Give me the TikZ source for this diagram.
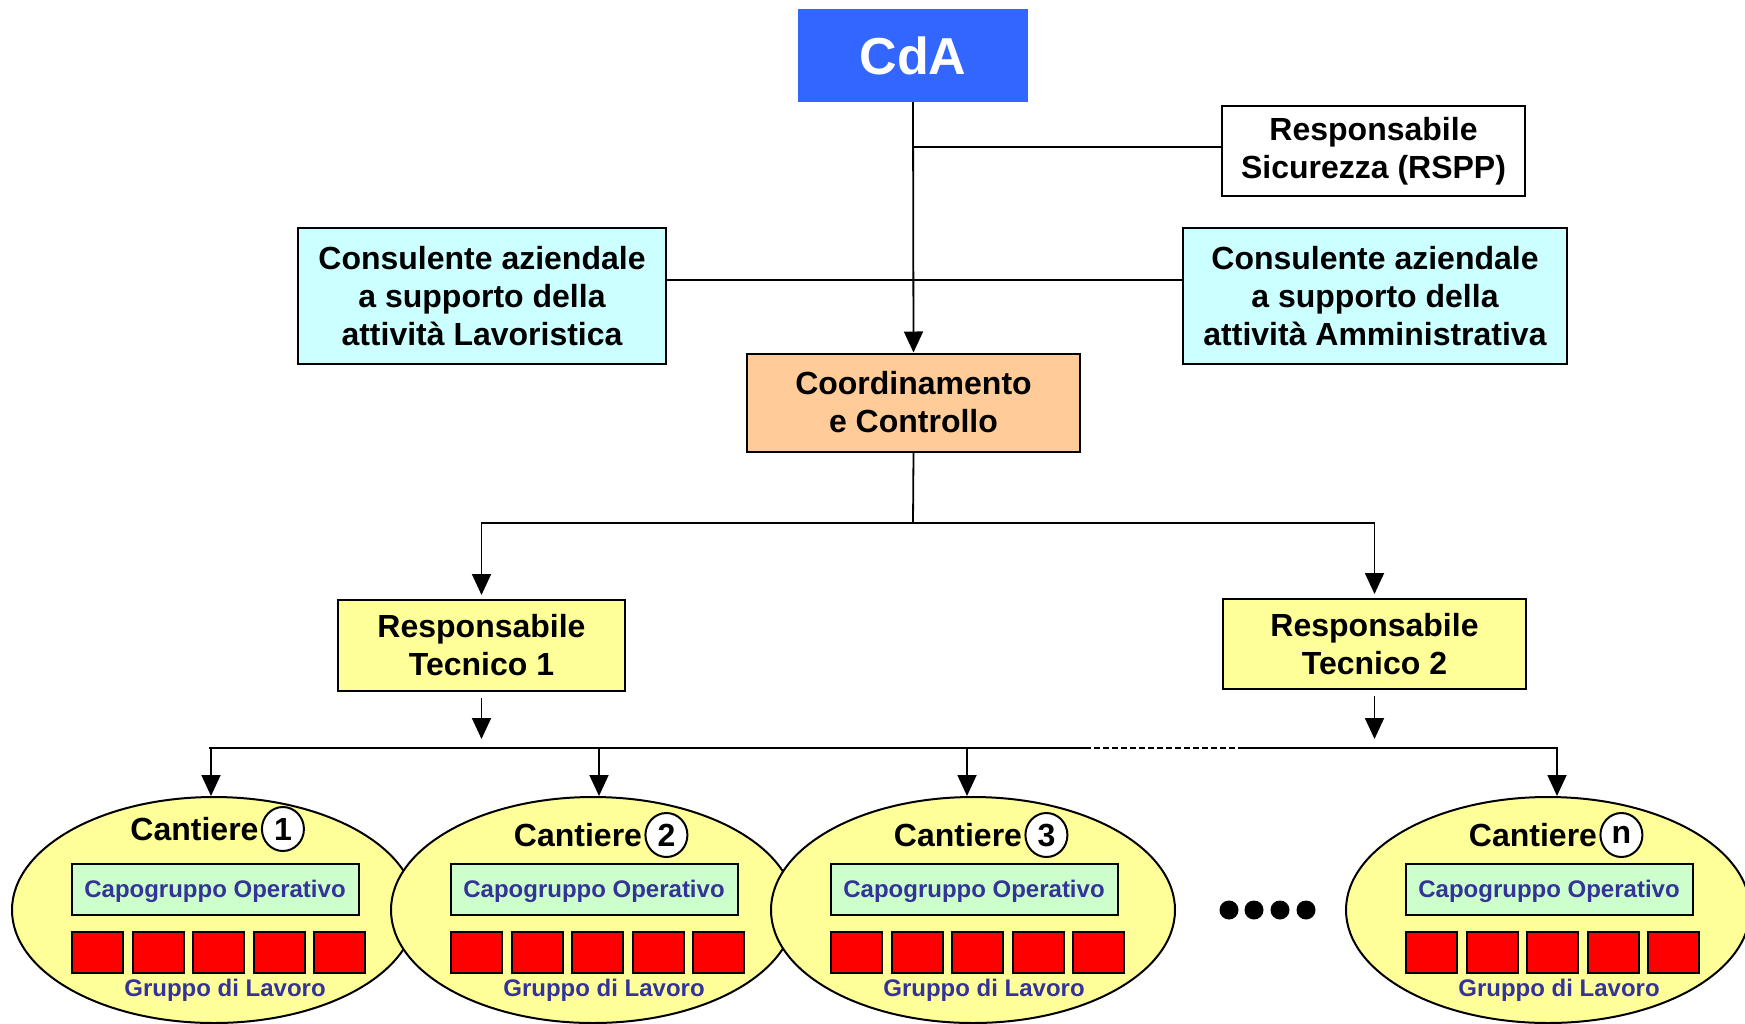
\documentclass[tikz,border=0pt]{standalone}
\usepackage{fontspec}
\setmainfont{Liberation Sans}
\usetikzlibrary{arrows.meta,shapes.geometric}
\definecolor{cdablue}{HTML}{3366FF}
\definecolor{consfill}{HTML}{CCFFFF}
\definecolor{coordfill}{HTML}{FFCC99}
\definecolor{yelfill}{HTML}{FFFF99}
\definecolor{capofill}{HTML}{CCFFCC}
\definecolor{capotext}{HTML}{333399}
\definecolor{sqred}{HTML}{FF0000}
\begin{document}
\begin{tikzpicture}[x=0.5pt,y=-0.5pt,
  box/.style={draw=black, line width=1pt, rectangle, align=center, inner sep=0pt,
    font=\fontsize{16}{19}\selectfont\bfseries},
  conn/.style={line width=0.9pt},
  arr/.style={conn, -{Triangle[length=10.5pt,width=9.5pt]}},
  bus/.style={line width=1.4pt},
  ell/.style={draw=black, line width=1pt, ellipse, fill=yelfill, minimum width=202pt, minimum height=113pt, inner sep=0pt},
  capo/.style={draw=black, line width=1pt, rectangle, fill=capofill, minimum width=143.5pt, minimum height=25.5pt, inner sep=0pt,
    text height=9.5pt, text depth=1.5pt, text=capotext, font=\fontsize{12}{14}\selectfont\bfseries},
  gdl/.style={inner sep=0pt, text=capotext, font=\fontsize{12}{14}\selectfont\bfseries},
  cant/.style={inner sep=0pt, font=\fontsize{16}{19}\selectfont\bfseries},
  num/.style={draw=black, line width=1pt, ellipse, fill=white, minimum width=21pt, minimum height=22pt, inner sep=0pt,
    font=\fontsize{16}{19}\selectfont\bfseries},
  sq/.style={draw=black, line width=1pt, rectangle, fill=sqred, minimum width=25.5pt, minimum height=20.5pt, inner sep=0pt},
  dot/.style={circle, fill=black, minimum size=9.5pt, inner sep=0pt}
]
\useasboundingbox (0,0) rectangle (1745,1023);

% top part
\node[box, fill=cdablue, draw=cdablue, text=white, minimum width=114pt, minimum height=45.5pt,
  font=\fontsize{26}{30}\selectfont\bfseries] (cda) at (913,55.5) {CdA};
\node[box, fill=white, minimum width=151.5pt, minimum height=45pt] (rspp) at (1373.5,151) {Responsabile\\Sicurezza (RSPP)};
\node[box, fill=consfill, minimum width=184pt, minimum height=68pt] (consL) at (482,296) {Consulente aziendale\\a supporto della\\attività Lavoristica};
\node[box, fill=consfill, minimum width=192pt, minimum height=68pt] (consR) at (1375,296) {Consulente aziendale\\a supporto della\\attività Amministrativa};
\node[box, fill=coordfill, minimum width=166.5pt, minimum height=49pt] (coord) at (913.5,402.5) {Coordinamento\\e Controllo};
\node[box, fill=yelfill, minimum width=143.5pt, minimum height=45.5pt] (rt1) at (481.5,645.5) {Responsabile\\Tecnico 1};
\node[box, fill=yelfill, minimum width=151.5pt, minimum height=45pt] (rt2) at (1374.5,644) {Responsabile\\Tecnico 2};

% connectors top
\coordinate (rsj) at (913,147);
\coordinate (cj) at (913,280);
\coordinate (sp) at (913,523);
\draw[arr] (cda.south) -- (coord.north);
\draw[conn] (rsj) -- (rsj -| rspp.west);
\draw[conn] (consL.east |- cj) -- (consR.west |- cj);
\draw[conn] (coord.south) -- (sp);
\draw[arr, shorten >=2pt] (sp) -| (rt1.north);
\draw[arr, shorten >=2pt] (sp) -| (rt2.north);

% bus
\coordinate (bL) at (209,748);
\coordinate (bA) at (1085,748);
\coordinate (bB) at (1241,748);
\coordinate (bR) at (1558,748);
\draw[bus] (bL) -- (bA);
\draw[line width=0.8pt, dash pattern=on 3pt off 1.5pt] (bA) -- (bB);
\draw[bus] (bB) -- (bR);
\draw[arr, shorten <=3pt, shorten >=4.5pt] (rt1.south) -- (rt1.south |- bL);
\draw[arr, shorten <=3pt, shorten >=4.5pt] (rt2.south) -- (rt2.south |- bL);

% cantieri
\foreach \i/\c/\cy/\tx in {1/214/829/-19.5, 2/593/835/-15, 3/973/835/-15, n/1548/835/-15} {
  \node[ell] (e\i) at (\c,910) {};
  \node[capo] (cap\i) at (\c+1,889.5) {Capogruppo Operativo};
  \foreach \k in {0,...,4} {
    \node[sq] (sq\i\k) at (\c-116.5+\k*60.5,952) {};
  }
  \node[gdl] (gdl\i) at (\c+11,990) {Gruppo di Lavoro};
  \node[cant] (cant\i) at (\c+\tx,\cy) {Cantiere};
  \node[num, anchor=west] (num\i) at ([xshift=1pt]cant\i.east) {\i};
}

% arrows from bus to cantieri
\coordinate (t1) at (211,748);
\coordinate (t2) at (599,748);
\coordinate (t3) at (967,748);
\coordinate (tn) at (1557,748);
\draw[arr] (t1) -- (t1 |- e1.north);
\draw[arr] (t2) -- (t2 |- e2.north);
\draw[arr] (t3) -- (t3 |- e3.north);
\draw[arr] (tn) -- (tn |- en.north);

% dots
\foreach \x [count=\j] in {1229,1254,1280,1306} {
  \node[dot] (dot\j) at (\x,910) {};
}
\end{tikzpicture}
\end{document}
